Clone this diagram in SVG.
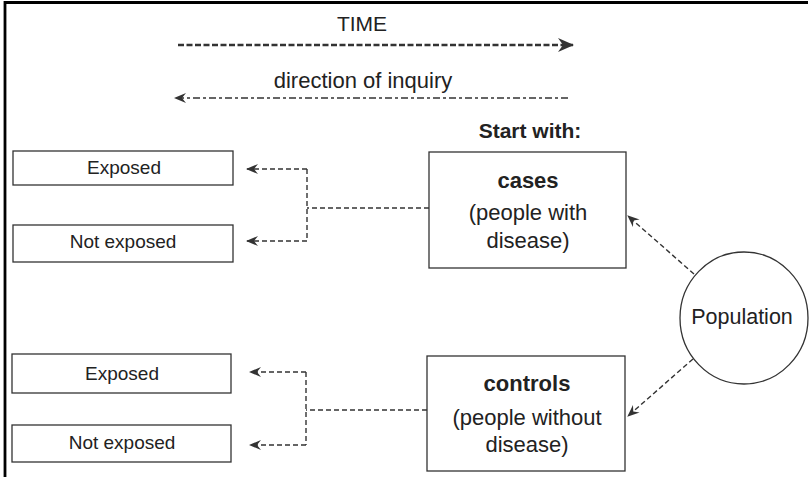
<svg xmlns="http://www.w3.org/2000/svg" width="809" height="477" viewBox="0 0 809 477">
<defs>
<style>
.box{fill:#fff;stroke:#333;stroke-width:1.3}
.t{font-family:"Liberation Sans",Arial,sans-serif;fill:#222;text-anchor:middle}
.dash{fill:none;stroke:#333;stroke-width:1.4;stroke-dasharray:5 3}
</style>
<marker id="ah" viewBox="0 0 12 10" refX="11" refY="5" markerWidth="12" markerHeight="10" markerUnits="userSpaceOnUse" orient="auto">
<path d="M0,0 L12,5 L0,10 L4,5 Z" fill="#333"/>
</marker>
<marker id="ahbig" viewBox="0 0 16 14" refX="15" refY="7" markerWidth="16" markerHeight="14" markerUnits="userSpaceOnUse" orient="auto">
<path d="M0,0 L16,7 L0,14 L5,7 Z" fill="#333"/>
</marker>
</defs>
<rect width="809" height="477" fill="#fff"/>
<path d="M5,477 V2.5 H808" fill="none" stroke="#000" stroke-width="2.8"/>

<g id="time">
<text class="t" x="362" y="31" font-size="21">TIME</text>
<line x1="178" y1="45" x2="573" y2="45" stroke="#333" stroke-width="2.5" stroke-dasharray="6 2.5" marker-end="url(#ahbig)"/>
</g>
<g id="inquiry">
<text class="t" x="363" y="88" font-size="22">direction of inquiry</text>
<line x1="568" y1="98" x2="175" y2="98" stroke="#333" stroke-width="1.3" stroke-dasharray="7 3 3 3" marker-end="url(#ah)"/>
</g>

<g id="start-with"><text class="t" x="530" y="138" font-size="21" font-weight="bold">Start with:</text></g>

<g id="cases">
<rect class="box" x="429" y="152" width="197" height="116"/>
<text class="t" x="528" y="188" font-size="22" font-weight="bold">cases</text>
<text class="t" x="528" y="220" font-size="22">(people with</text>
<text class="t" x="528" y="248" font-size="22">disease)</text>
</g>

<g id="controls">
<rect class="box" x="427" y="356" width="198" height="115"/>
<text class="t" x="527" y="391" font-size="22" font-weight="bold">controls</text>
<text class="t" x="527" y="425" font-size="22">(people without</text>
<text class="t" x="527" y="452" font-size="22">disease)</text>
</g>

<g id="population">
<ellipse cx="744" cy="318" rx="64" ry="66" fill="#fff" stroke="#333" stroke-width="1.3"/>
<text class="t" x="742" y="324" font-size="21.5">Population</text>
</g>

<g id="exposed-1"><rect class="box" x="13" y="151" width="220" height="34"/><text class="t" x="124" y="174" font-size="19">Exposed</text></g>
<g id="notexposed-1"><rect class="box" x="13" y="225" width="220" height="37"/><text class="t" x="123" y="248" font-size="19">Not exposed</text></g>
<g id="exposed-2"><rect class="box" x="12" y="354" width="219" height="39"/><text class="t" x="122" y="380" font-size="19">Exposed</text></g>
<g id="notexposed-2"><rect class="box" x="12" y="425" width="219" height="37"/><text class="t" x="122" y="449" font-size="19">Not exposed</text></g>

<g id="connectors">
<line class="dash" x1="429" y1="208" x2="307" y2="208"/>
<polyline class="dash" points="307,169 307,241"/>
<line class="dash" x1="307" y1="169" x2="247" y2="169" marker-end="url(#ah)"/>
<line class="dash" x1="307" y1="241" x2="247" y2="241" marker-end="url(#ah)"/>

<line class="dash" x1="427" y1="410" x2="306" y2="410"/>
<polyline class="dash" points="306,372 306,445"/>
<line class="dash" x1="306" y1="372" x2="250" y2="372" marker-end="url(#ah)"/>
<line class="dash" x1="306" y1="445" x2="250" y2="445" marker-end="url(#ah)"/>

<line class="dash" x1="694" y1="274" x2="628" y2="216" marker-end="url(#ah)"/>
<line class="dash" x1="693" y1="359" x2="628" y2="416" marker-end="url(#ah)"/>
</g>
</svg>
